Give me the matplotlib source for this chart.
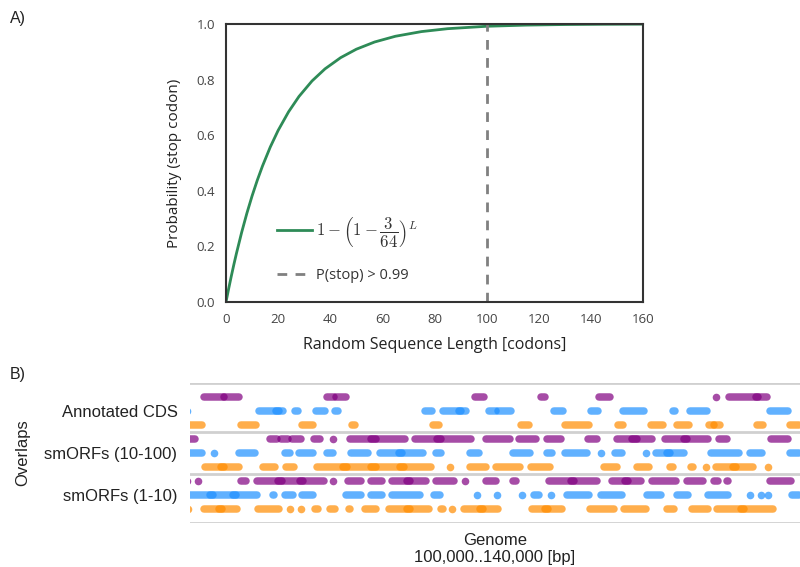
import matplotlib
matplotlib.use("Agg")
import matplotlib.pyplot as plt

# ── Panel A: probability of hitting a stop codon ─────────────────────────────
seq_len = [0, 1, 2, 3, 4, 6, 8, 10, 12, 14, 17, 20, 24, 28, 33, 38, 44, 50,
           57, 65, 75, 85, 100, 115, 130, 145, 160]
p_stop = [0.0, 0.0469, 0.0915, 0.1341, 0.1746, 0.2502, 0.3189, 0.3813, 0.4378,
          0.4891, 0.5577, 0.6171, 0.6840, 0.7393, 0.7950, 0.8387, 0.8790,
          0.9093, 0.9352, 0.9559, 0.9727, 0.9831, 0.9918, 0.9960, 0.9981,
          0.9991, 0.9995]
threshold_len = 100
x_ticks = [0, 20, 40, 60, 80, 100, 120, 140, 160]
y_ticks = [0.0, 0.2, 0.4, 0.6, 0.8, 1.0]

# ── Panel B: overlap tracks, intervals in kb ─────────────────────────────────
track_names = ["Annotated CDS", "smORFs (10-100)", "smORFs (1-10)"]

cds_purple = [(100.92, 102.23), (102.23, 103.21), (108.98, 109.44), (109.57, 110.23),
              (118.69, 119.28), (123.02, 123.28), (126.82, 127.54), (134.49, 134.49),
              (135.34, 137.25), (137.11, 137.84)]
cds_blue = [(99.8, 99.8), (104.52, 105.84), (105.64, 106.10), (106.88, 107.08),
            (108.26, 108.85), (109.51, 109.70), (115.41, 115.87), (116.59, 117.77),
            (117.64, 118.10), (119.61, 120.06), (120.20, 121.05), (123.87, 124.46),
            (126.29, 126.75), (128.39, 129.77), (131.67, 131.80), (132.79, 133.90),
            (138.03, 139.21)]
cds_orange = [(99.9, 100.79), (103.34, 104.33), (107.34, 108.07), (110.62, 110.82),
              (115.93, 116.33), (121.70, 122.23), (124.59, 126.16), (128.06, 128.39),
              (130.23, 131.01), (131.93, 132.72), (134.03, 134.36), (134.36, 134.75),
              (137.18, 137.57), (139.34, 139.93)]

mid_purple = [(99.9, 100.35), (105.25, 105.70), (105.97, 106.43), (106.69, 107.28),
              (108.13, 108.52), (109.38, 109.38), (110.49, 112.20), (111.9, 114.10),
              (114.75, 116.46), (116.2, 118.43), (119.41, 120.98), (121.57, 122.69),
              (123.41, 124.33), (126.10, 126.69), (128.00, 129.3), (129.0, 130.29),
              (131.15, 132.6), (132.4, 133.97), (134.69, 135.21), (138.10, 139.21)]
mid_blue = [(99.9, 100.79), (101.57, 101.57), (103.21, 104.26), (106.23, 106.56),
            (107.15, 108.07), (108.98, 109.38), (110.56, 111.67), (112.46, 113.9),
            (113.7, 115.28), (116.13, 116.46), (118.36, 118.95), (121.18, 122.29),
            (123.41, 123.74), (124.59, 126.03), (126.95, 126.95), (127.87, 128.33),
            (129.93, 129.93), (130.56, 131.5), (131.3, 132.39), (134.16, 136.00),
            (136.72, 137.51), (139.34, 139.93)]
mid_orange = [(100.98, 102.2), (102.0, 103.21), (104.79, 105.57), (106.29, 106.82),
              (108.33, 110.3), (110.0, 112.2), (111.9, 114.0), (113.8, 115.80),
              (117.02, 117.02), (118.36, 119.41), (120.06, 121.64), (122.36, 123.61),
              (127.15, 128.00), (129.31, 130.10), (131.47, 131.67), (132.85, 132.98),
              (133.84, 133.84), (134.49, 135.8), (135.6, 136.92), (137.90, 137.90)]

low_purple = [(99.8, 99.8), (100.52, 100.52), (103.34, 103.67), (104.39, 106.0),
              (105.8, 107.4), (107.2, 108.79), (109.38, 109.38), (110.36, 111.21),
              (111.87, 112.59), (113.25, 114.4), (114.2, 115.47), (116.13, 117.31),
              (118.03, 118.03), (119.41, 120.06), (121.18, 121.38), (122.66, 122.72),
              (123.54, 125.2), (125.0, 126.69), (127.67, 128.7), (128.5, 129.57),
              (130.29, 131.87), (132.59, 133.64), (134.36, 134.62), (135.22, 135.28),
              (138.03, 139.41)]
low_blue = [(99.9, 101.5), (101.3, 103.0), (102.8, 104.39), (105.45, 105.5),
            (106.23, 106.75), (107.34, 108.07), (110.23, 111.21), (111.87, 112.59),
            (113.25, 115.08), (116.00, 116.39), (118.85, 118.85), (120.13, 120.13),
            (121.80, 121.80), (122.56, 122.88), (123.67, 123.67), (124.72, 126.16),
            (126.95, 128.33), (129.97, 130.88), (131.93, 132.65), (133.97, 135.28),
            (136.75, 136.75), (137.44, 137.44), (137.90, 137.90), (139.47, 139.93)]
low_orange = [(99.9, 99.9), (100.92, 102.1), (101.9, 103.08), (104.46, 105.84),
              (106.56, 106.56), (107.28, 107.28), (108.20, 108.39), (109.18, 109.51),
              (110.43, 110.49), (111.47, 112.20), (113.05, 114.4), (114.2, 115.67),
              (116.46, 116.59), (117.15, 117.15), (117.97, 119.2), (119.0, 120.20),
              (122.43, 123.5), (123.3, 124.39), (126.23, 127.80), (128.46, 129.90),
              (131.28, 131.74), (132.92, 133.97), (134.56, 136.3), (136.1, 138.23)]

tracks = [cds_purple, cds_blue, cds_orange,
          mid_purple, mid_blue, mid_orange,
          low_purple, low_blue, low_orange]
track_colors = ["#800080", "#1E90FF", "#FF8C00"] * 3

plt.rcParams["mathtext.fontset"] = "cm"
fig = plt.figure(figsize=(8, 5.67), dpi=100)

# ── Panel A ─────────────────────────────────────────────────────────────────
axA = fig.add_axes([226 / 800, 1 - 302 / 567, 417 / 800, 278 / 567])
axA.plot(seq_len, p_stop, color="#2E8B57", lw=2,
         label=r"$1-\left(1-\dfrac{3}{64}\right)^L$")
axA.axvline(threshold_len, color="#808080", lw=2, ls=(0, (3.5, 3)),
            label="P(stop) > 0.99")
axA.set_xlim(0, 160)
axA.set_ylim(0, 1)
axA.set_xticks(x_ticks)
axA.set_yticks(y_ticks)
axA.set_yticklabels([f"{v:.1f}" for v in y_ticks])
axA.tick_params(length=0, pad=8, labelsize=9.5, labelcolor="#444444")
for lab in axA.get_xticklabels() + axA.get_yticklabels():
    lab.set_family("Open Sans")
for sp in axA.spines.values():
    sp.set_color("#333333")
    sp.set_linewidth(1.5)
axA.set_xlabel("Random Sequence Length [codons]", fontsize=11.5,
               family="Open Sans", color="#222222", labelpad=8)
axA.set_ylabel("Probability (stop codon)", fontsize=11,
               family="Open Sans", color="#222222", labelpad=10)
leg = axA.legend(loc="lower left", bbox_to_anchor=(0.09, 0.02), frameon=False,
                 prop={"family": "Open Sans", "size": 10.5}, handlelength=2.4,
                 handletextpad=0.3, labelspacing=1.35)
leg.get_texts()[0].set_fontsize(12)
for t in leg.get_texts():
    t.set_color("#333333")

# ── Panel B ─────────────────────────────────────────────────────────────────
axB = fig.add_axes([190 / 800, 1 - 523 / 567, 610 / 800, 140 / 567])
for row, (ivals, col) in enumerate(zip(tracks, track_colors)):
    for s, e in ivals:
        if e - s < 0.01:
            axB.scatter([s], [row], s=30, color=col, alpha=0.7, lw=0)
        else:
            axB.plot([s, e], [row, row], color=col, alpha=0.7, lw=5.4,
                     solid_capstyle="round")
for yl in [-1, 2.5, 5.5, 9]:
    axB.axhline(yl, color="#d0d0d0", lw=2)
axB.set_xlim(100, 140)
axB.set_ylim(9, -1)
axB.set_xticks([])
axB.set_yticks([1, 4, 7])
axB.set_yticklabels(track_names, family="Liberation Sans", fontsize=12,
                    color="#222222")
axB.tick_params(length=0, pad=9)
for sp in axB.spines.values():
    sp.set_visible(False)
axB.set_xlabel("Genome\n100,000..140,000 [bp]", family="Liberation Sans",
               fontsize=12, color="#222222", labelpad=7)
axB.set_ylabel("Overlaps", family="Liberation Sans", fontsize=12,
               color="#222222", labelpad=10)

fig.text(10 / 800, 1 - 18 / 567, "A)", family="Liberation Sans", fontsize=11.5,
         va="center", color="#222222")
fig.text(10 / 800, 1 - 375 / 567, "B)", family="Liberation Sans", fontsize=11.5,
         va="center", color="#222222")

fig.savefig("out.png", dpi=100)
